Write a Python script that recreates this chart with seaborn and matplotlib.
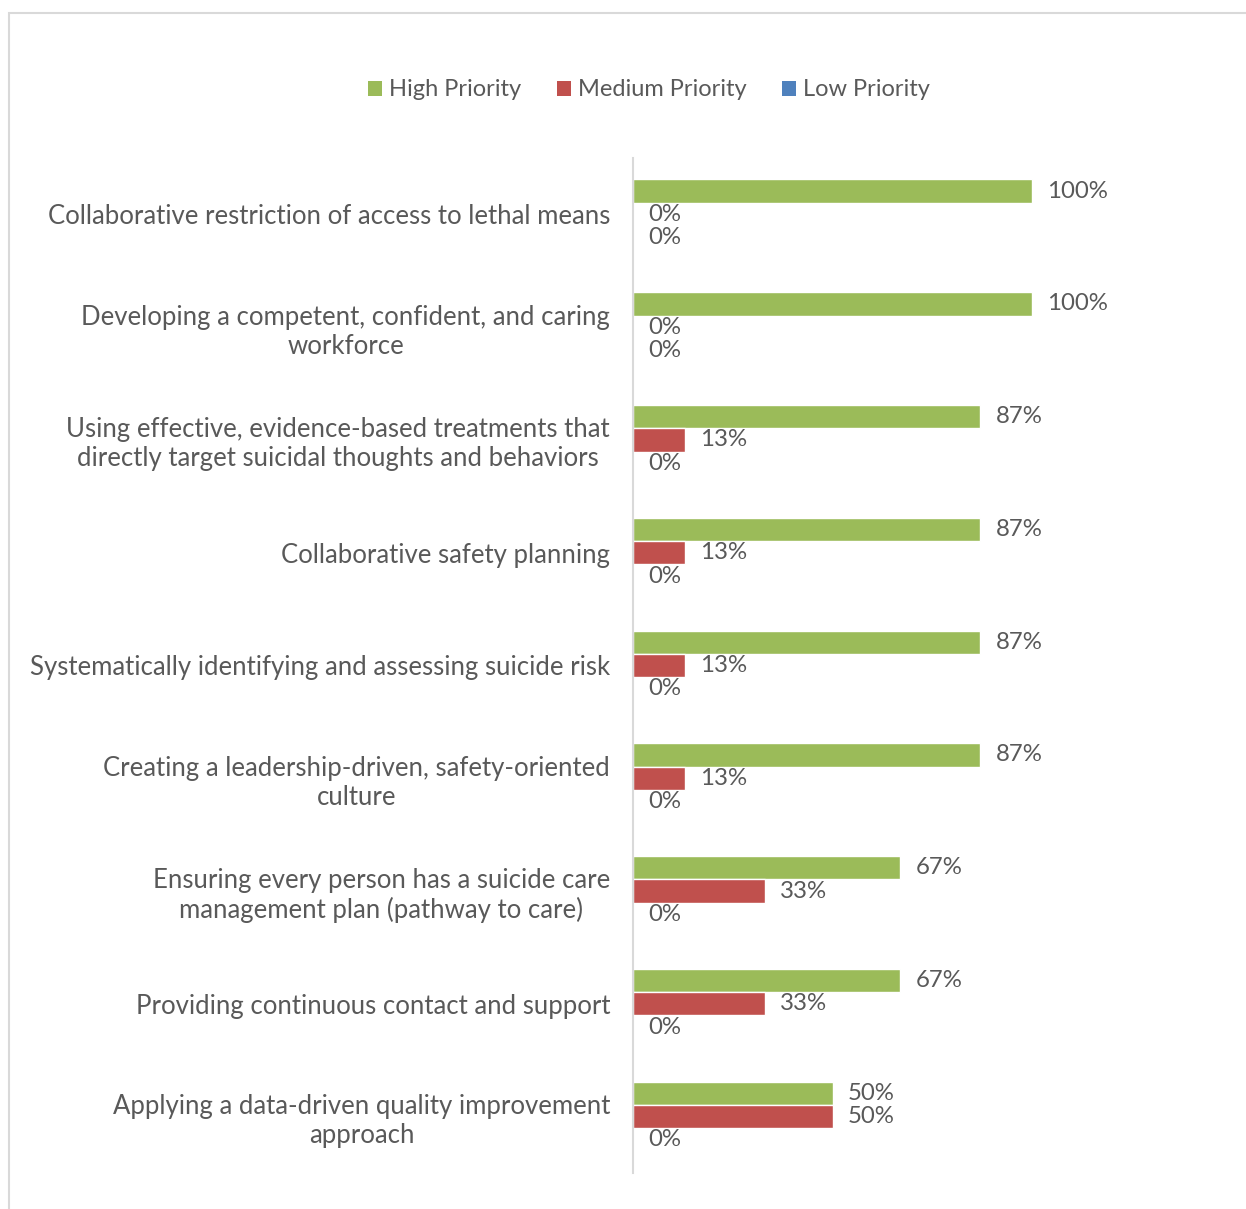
import matplotlib
matplotlib.use("Agg")
import matplotlib.pyplot as plt
from matplotlib.patches import Rectangle, Patch
import seaborn as sns
import pandas as pd

categories = [
    "Collaborative restriction of access to lethal means",
    "Developing a competent, confident, and caring\nworkforce",
    "Using effective, evidence-based treatments that\ndirectly target suicidal thoughts and behaviors",
    "Collaborative safety planning",
    "Systematically identifying and assessing suicide risk",
    "Creating a leadership-driven, safety-oriented\nculture",
    "Ensuring every person has a suicide care\nmanagement plan (pathway to care)",
    "Providing continuous contact and support",
    "Applying a data-driven quality improvement\napproach",
]
series = ["High Priority", "Medium Priority", "Low Priority"]
high = [1.00, 1.00, 0.87, 0.87, 0.87, 0.87, 0.67, 0.67, 0.50]
medium = [0.00, 0.00, 0.13, 0.13, 0.13, 0.13, 0.33, 0.33, 0.50]
low = [0.00, 0.00, 0.00, 0.00, 0.00, 0.00, 0.00, 0.00, 0.00]
colors = ["#9BBB59", "#C0504D", "#4F81BD"]

rows = []
for s, vals in zip(series, [high, medium, low]):
    for c, v in zip(categories, vals):
        rows.append({"category": c, "series": s, "value": v})
df = pd.DataFrame(rows)

sns.set_style("white")
plt.rcParams["font.family"] = ["Lato", "DejaVu Sans"]
TXT = "#595959"

W, H = 1246, 1209
fig = plt.figure(figsize=(W / 100, H / 100), dpi=100)
ax = fig.add_axes([633 / W, 1 - 1173 / H, (1112 - 633) / W, (1173 - 158) / H])

sns.barplot(data=df, y="category", x="value", hue="series", order=categories,
            hue_order=series, palette=colors, orient="h", errorbar=None,
            width=0.62, ax=ax, legend=False, saturation=1)

for cont in ax.containers:
    ax.bar_label(cont, labels=[f"{b.get_width():.0%}" for b in cont],
                 padding=11, fontsize=17.3, color=TXT)

ax.set_xlim(0, 1.2)
ax.set_ylim(len(categories) - 0.5, -0.5)
ax.set_xlabel("")
ax.set_ylabel("")
ax.set_xticks([])
ax.tick_params(axis="y", length=0, pad=16.5, labelsize=18.5, labelcolor=TXT)
for t in ax.get_yticklabels():
    t.set_multialignment("center")
for sp in ["top", "right", "bottom"]:
    ax.spines[sp].set_visible(False)
ax.spines["left"].set_color("#d9d9d9")
ax.spines["left"].set_linewidth(1.5)

handles = [Patch(facecolor=c, edgecolor="none") for c in colors]
fig.legend(handles, series, loc="center", bbox_to_anchor=(649 / W, 1 - 90 / H),
           ncol=3, frameon=False, fontsize=17, labelcolor=TXT,
           handlelength=0.6, handleheight=0.6, handletextpad=0.3,
           columnspacing=1.5)

fig.patches.append(Rectangle((8.5 / W, -0.1), 2, 1.1 - 12.5 / H,
                             transform=fig.transFigure, fill=False,
                             edgecolor="#d9d9d9", lw=1.5))

fig.savefig("out.png", dpi=100)
